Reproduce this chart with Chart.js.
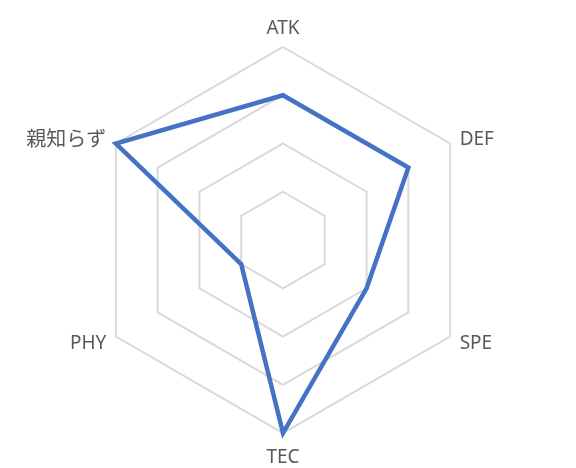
<!DOCTYPE html>
<html lang="ja">
<head>
<meta charset="UTF-8">
<title>Radar</title>
<script src="https://cdn.jsdelivr.net/npm/chart.js"></script>
<style>
  body { margin: 0; background: #fff; }
  #wrap { width: 576px; height: 468px; }
</style>
</head>
<body>
<div id="wrap"><canvas id="radar"></canvas></div>
<script>
const categorias = ['ATK', 'DEF', 'SPE', 'TEC', 'PHY', '親知らず'];
const valores = [3, 3, 2, 4, 1, 4];
const escalaMax = 4;

// rótulos desenhados à mão, centrados verticalmente como no Excel
const rotulos = {
  id: 'rotulos',
  afterDraw(chart) {
    const r = chart.scales.r;
    const ctx = chart.ctx;
    ctx.save();
    ctx.fillStyle = '#595959';
    ctx.textBaseline = 'middle';
    categorias.forEach((txt, i) => {
      const cjk = /[^\x00-\x7f]/.test(txt);
      ctx.font = (cjk ? 20 : 19) + "px 'Noto Sans', 'Noto Sans CJK JP', sans-serif";
      const p0 = r.getPointPosition(i, r.drawingArea);
      const dx = p0.x - r.xCenter;
      let p;
      if (Math.abs(dx) < 1) {
        p = r.getPointPosition(i, r.drawingArea + (p0.y < r.yCenter ? 20 : 23));
        ctx.textAlign = 'center';
      } else {
        p = r.getPointPosition(i, r.drawingArea + 11);
        ctx.textAlign = dx > 0 ? 'left' : 'right';
      }
      ctx.fillText(txt, p.x, p.y + 2);
    });
    ctx.restore();
  }
};

new Chart(document.getElementById('radar'), {
  type: 'radar',
  data: {
    labels: categorias,
    datasets: [{
      data: valores,
      borderColor: '#4472C4',
      borderWidth: 4.5,
      backgroundColor: 'transparent',
      fill: false,
      pointRadius: 0,
      pointHoverRadius: 0
    }]
  },
  options: {
    responsive: true,
    maintainAspectRatio: false,
    animation: false,
    layout: { padding: { top: 47, bottom: 35, left: 41, right: 50 } },
    plugins: { legend: { display: false }, tooltip: { enabled: false } },
    scales: {
      r: {
        min: 0,
        max: escalaMax,
        ticks: { display: false, stepSize: 1 },
        angleLines: { display: false },
        grid: { color: '#d9d9d9', lineWidth: 2 },
        pointLabels: { display: false }
      }
    }
  },
  plugins: [rotulos]
});
</script>
</body>
</html>
